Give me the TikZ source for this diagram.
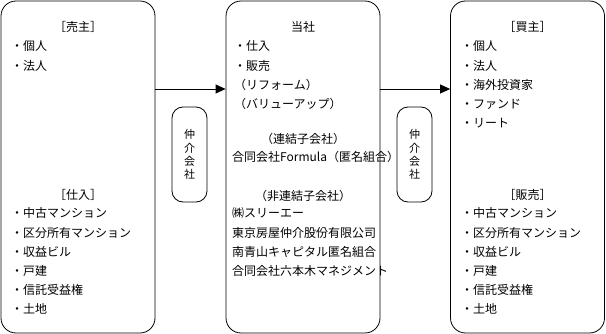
\documentclass[tikz,border=0pt]{standalone}
\usepackage{fontspec}
\newfontfamily\jpfont{Noto Sans CJK JP}
\usepackage{tikz}
\usetikzlibrary{arrows.meta}

\begin{document}
\begin{tikzpicture}[
        x=1pt, y=-1pt,
        party/.style={draw, rounded corners=15pt, minimum width=154pt, minimum height=332pt, inner sep=0pt, line width=0.8pt},
        broker/.style={draw, rounded corners=11pt, minimum width=35pt, minimum height=95pt, inner sep=0pt, line width=0.8pt, align=center, font=\jpfont\fontsize{11}{13.2}\selectfont},
        head/.style={anchor=base, inner sep=0pt, font=\jpfont\fontsize{12}{19.2}\selectfont},
        items/.style={anchor=north west, inner sep=0pt, align=left, font=\jpfont\fontsize{12}{19.2}\selectfont,
            execute at begin node={\rule{0pt}{11pt}}},
        flow/.style={-{Triangle[length=10pt, width=9pt]}, line width=0.8pt}
    ]
        \useasboundingbox (0,0) rectangle (606,334);

        \node[party] (seller) at (78,167) {};
        \node[party] (company) at (303,167) {};
        \node[party] (buyer) at (527.5,167) {};
        \node[broker] (brokerL) at (189.5,154.5) {仲\\介\\会\\社};
        \node[broker] (brokerR) at (414.5,154.5) {仲\\介\\会\\社};

        % seller side
        \node[head] (sellerhead) at (78,31.6) {［売主］};
        \node[items] (sellerlist) at (11,40.6) {・個人\\・法人};
        \node[head] (purchasehead) at (78,199.6) {［仕入］};
        \node[items] (purchaselist) at (11,207.6) {・中古マンション\\・区分所有マンション\\・収益ビル\\・戸建\\・信託受益権\\・土地};

        % company
        \node[head] (companyhead) at (303,31.6) {当社};
        \node[items] (businesslist) at (234,40.6) {・仕入\\・販売\\（リフォーム）\\（バリューアップ）};
        \node[head] (subhead) at (303,143.6) {（連結子会社）};
        \node[items] (sublist) at (232,150.6) {合同会社Formula（匿名組合）};
        \node[head] (otherhead) at (303,200.6) {（非連結子会社）};
        \node[items] (otherlist) at (232,207.6) {㈱スリーエー\\東京房屋仲介股份有限公司\\南青山キャピタル匿名組合\\合同会社六本木マネジメント};

        % buyer side
        \node[head] (buyerhead) at (527.5,31.6) {［買主］};
        \node[items] (buyerlist) at (461,40.6) {・個人\\・法人\\・海外投資家\\・ファンド\\・リート};
        \node[head] (salehead) at (527.5,199.6) {［販売］};
        \node[items] (salelist) at (461,207.6) {・中古マンション\\・区分所有マンション\\・収益ビル\\・戸建\\・信託受益権\\・土地};

        \draw[flow] ([yshift=78pt]seller.east) -- ([yshift=78pt]company.west);
        \draw[flow] ([yshift=78pt]company.east) -- ([yshift=78pt]buyer.west);
    \end{tikzpicture}
\end{document}
